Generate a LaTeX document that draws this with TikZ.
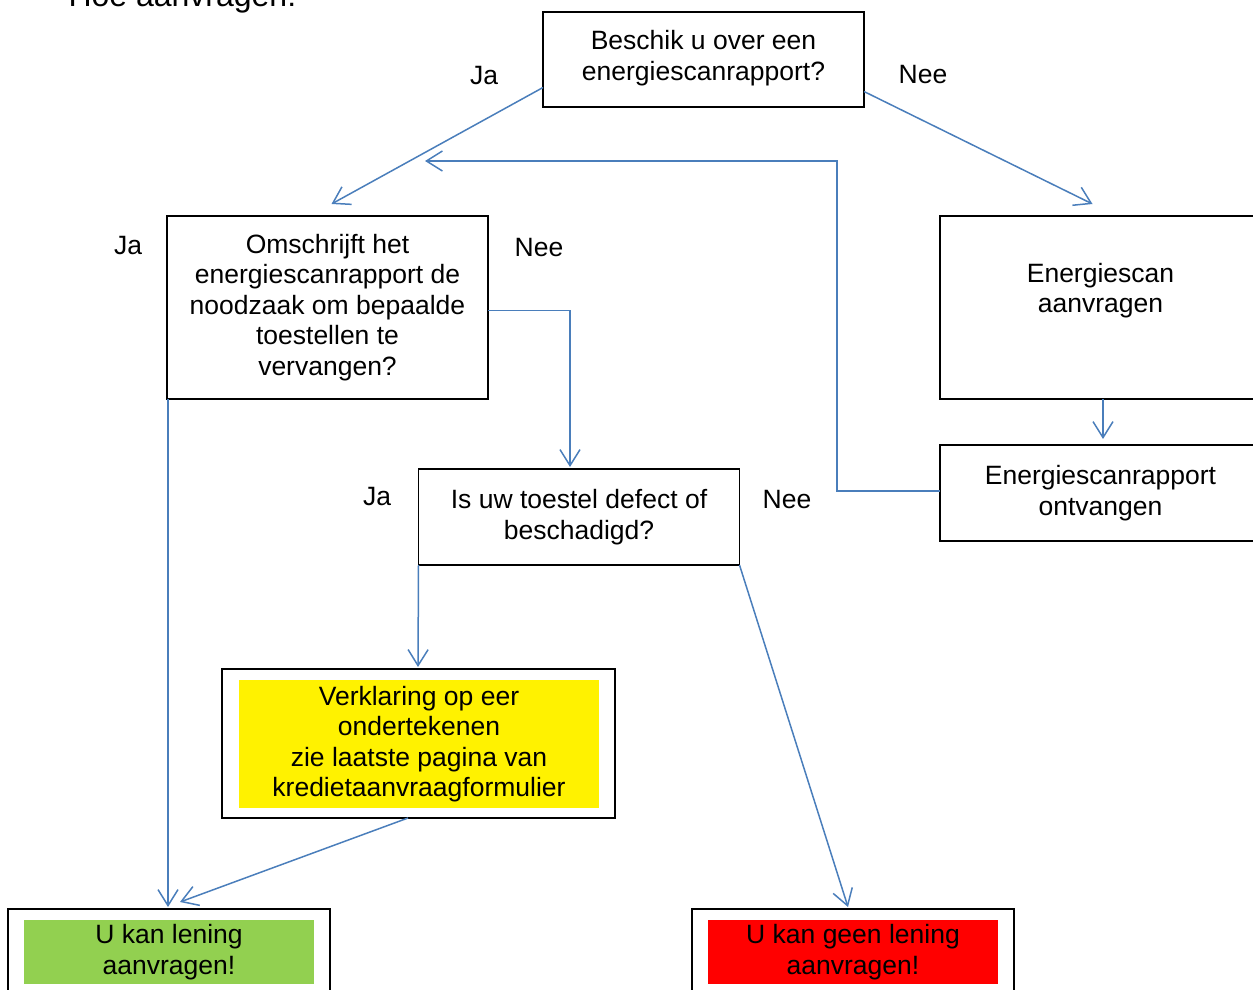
\documentclass[tikz,border=0pt]{standalone}
\usepackage{fontspec}
\setmainfont{Liberation Sans}
\usetikzlibrary{positioning,arrows.meta}
\definecolor{linkblue}{HTML}{4A7EBB}
\definecolor{okgreen}{HTML}{92D050}

\begin{document}
\begin{tikzpicture}[x=1pt,y=-1pt,font=\fontsize{26.5}{30.5}\selectfont,
  box node/.style={draw,line width=1.2pt,align=center,inner sep=0pt,outer sep=0pt,minimum width=321pt},
  fill node/.style={align=center,inner sep=0pt,minimum width=290pt,minimum height=64pt},
  link/.style={draw=linkblue,line width=1.5pt,-{Straight Barb[length=16pt,width=20pt]}}]
\useasboundingbox (0,0) rectangle (1253,990);

\node[anchor=base west,font=\fontsize{32}{36}\selectfont] (title) at (65,7) {Hoe aanvragen:};

% vragen
\node[box node,minimum height=95pt] (1) at (703.5,59.5) {Beschik u over een\\energiescanrapport?\\[-22pt]};
\node[box node,minimum height=183pt] (2) at (327.5,307.5) {Omschrijft het\\energiescanrapport de\\noodzaak om bepaalde\\toestellen te\\vervangen?};
\node[box node,minimum height=183pt] (3) at (1100.5,307.5) {};
\node[align=center] (3t) at ([yshift=17pt]3.center) {Energiescan\\aanvragen};
\node[box node,minimum height=96pt] (4) at (1100.5,493) {Energiescanrapport\\ontvangen};
\node[box node,minimum height=96pt] (5) at (579,517) {Is uw toestel defect of\\beschadigd?};

% uitkomsten
\node[box node,minimum width=393pt,minimum height=149pt] (6) at (418.5,743.5) {};
\node[fill node,fill=yellow,minimum width=360pt,minimum height=128pt] (6t) at (419,744) {Verklaring op eer\\ondertekenen\\zie laatste pagina van\\kredietaanvraagformulier};
\node[box node,minimum width=322pt,minimum height=100pt] (7) at (169,959) {};
\node[fill node,fill=okgreen] (7t) at (169,952) {U kan lening\\aanvragen!};
\node[box node,minimum width=322pt,minimum height=100pt] (8) at (853,959) {};
\node[fill node,fill=red] (8t) at (853,952) {U kan geen lening\\aanvragen!};

% ja / nee
\node (l1) at (484,76) {Ja};
\node (l2) at (923,75) {Nee};
\node (l3) at (128,246) {Ja};
\node (l4) at (539,248) {Nee};
\node (l5) at (377,497) {Ja};
\node (l6) at (787,500) {Nee};

\coordinate (turn) at (837,161);
\coordinate (back) at (425,161);

\draw[link] ([yshift=-28pt]1.west) -- ([xshift=4pt,yshift=12pt]2.north);
\draw[link] ([yshift=-32pt]1.east) -- ([xshift=-8pt,yshift=12pt]3.north);
\draw[link] ([xshift=2.5pt]3.south) -- ([xshift=2.5pt,yshift=6pt]4.north);
\draw[link] ([yshift=2pt]4.west) -| (turn) -- (back);
\draw[link] ([yshift=-3pt]2.east) -| ([xshift=-9pt,yshift=2pt]5.north);
\draw[link] ([xshift=1pt]2.south west) -- ([xshift=-1pt,yshift=2pt]7.north);
\draw[link] (5.south west) -- ([xshift=-0.5pt,yshift=2pt]6.north);
\draw[link] ([xshift=-10.5pt]6.south) -- ([xshift=11pt,yshift=7pt]7.north);
\draw[link] (5.south east) -- ([xshift=-5pt,yshift=2pt]8.north);
\end{tikzpicture}
\end{document}
